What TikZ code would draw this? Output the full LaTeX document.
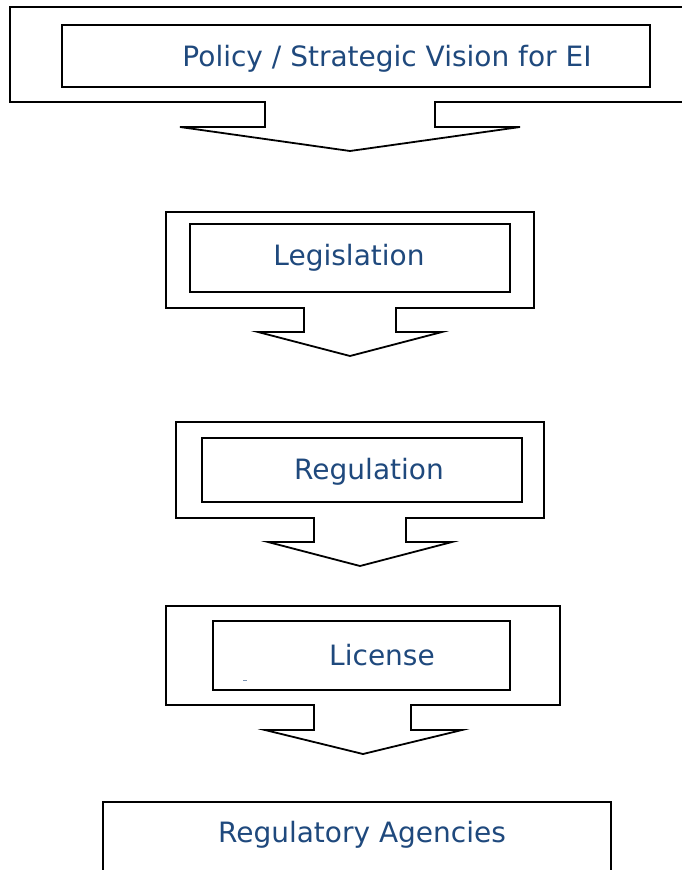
\documentclass[tikz,border=0pt]{standalone}
\usepackage{fontspec}
\setmainfont{DejaVu Sans}
\definecolor{txtblue}{RGB}{31,73,125}
\begin{document}
\begin{tikzpicture}[x=1pt,y=-1pt,
  callout/.style={draw=black,line width=1.8pt,line join=miter,fill=white},
  inbox/.style={draw=black,line width=1.8pt,fill=white,inner sep=0pt},
  lbl/.style={text=txtblue,font=\fontsize{28}{33}\selectfont,inner sep=0pt}]
\clip (0,0) rectangle (682,870);
\fill[white] (0,0) rectangle (682,870);
% block 1
\draw[callout] (10,7) -- (700,7) -- (700,102) -- (435,102) -- (435,127) -- (520,127)
  -- (350,151) -- (180,127) -- (265,127) -- (265,102) -- (10,102) -- cycle;
\node[inbox,minimum width=588pt,minimum height=62pt] (policybox) at (356,56) {};
\node[lbl] (policy) at (387,59) {Policy / Strategic Vision for EI};
% block 2
\draw[callout] (166,212) -- (534,212) -- (534,308) -- (396,308) -- (396,332) -- (442,332)
  -- (350,356) -- (258,332) -- (304,332) -- (304,308) -- (166,308) -- cycle;
\node[inbox,minimum width=320pt,minimum height=68pt] (legbox) at (350,258) {};
\node[lbl] (leg) at (349,258) {Legislation};
% block 3
\draw[callout] (176,422) -- (544,422) -- (544,518) -- (406,518) -- (406,542) -- (452,542)
  -- (360,566) -- (268,542) -- (314,542) -- (314,518) -- (176,518) -- cycle;
\node[inbox,minimum width=320pt,minimum height=64pt] (regbox) at (362,470) {};
\node[lbl] (reg) at (369,472) {Regulation};
% block 4
\draw[callout] (166,606) -- (560,606) -- (560,705) -- (411,705) -- (411,730) -- (462,730)
  -- (363,754) -- (265,730) -- (314,730) -- (314,705) -- (166,705) -- cycle;
\node[inbox,minimum width=297pt,minimum height=69pt] (licbox) at (361.5,655.5) {};
\node[lbl] (lic) at (382,655) {License};
\draw[txtblue!60,line width=0.8pt] (243,680) -- (247,680);
% block 5
\node[inbox,minimum width=508pt,minimum height=90pt,anchor=north west] (agbox) at (102,801) {};
\node[lbl] (ag) at (362,835) {Regulatory Agencies};
\end{tikzpicture}
\end{document}
